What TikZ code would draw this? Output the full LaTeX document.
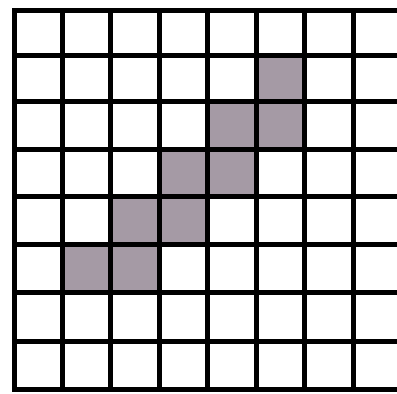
\documentclass[tikz,border=0pt]{standalone}
\definecolor{shade}{RGB}{165,154,165}
\tikzset{gridline/.style={line width=5pt,black,line cap=rect},
  shadedcell/.style={fill=shade}}
\begin{document}
\begin{tikzpicture}[x=1pt,y=-1pt]
\useasboundingbox (0,0) rectangle (397,394);
\fill[white] (0,0) rectangle (397,394);
% shaded cells
\def\xs{{14,62,110,159,207,256,304,353,401}}
\def\ys{{10,55,101,149,196,244,292,341,389}}
\foreach \c/\r in {5/1,4/2,5/2,3/3,4/3,2/4,3/4,1/5,2/5}{
  \pgfmathsetmacro\xa{\xs[\c]}
  \pgfmathsetmacro\xb{\xs[\c+1]}
  \pgfmathsetmacro\ya{\ys[\r]}
  \pgfmathsetmacro\yb{\ys[\r+1]}
  \fill[shadedcell] (\xa,\ya) rectangle (\xb,\yb);
}
% grid lines
\foreach \x in {14,62,110,159,207,256,304,353}
  \draw[gridline] (\x,10) -- (\x,389);
\foreach \y in {10,55,101,149,196,244,292,341,389}
  \draw[gridline] (14,\y) -- (397,\y);
\end{tikzpicture}
\end{document}
